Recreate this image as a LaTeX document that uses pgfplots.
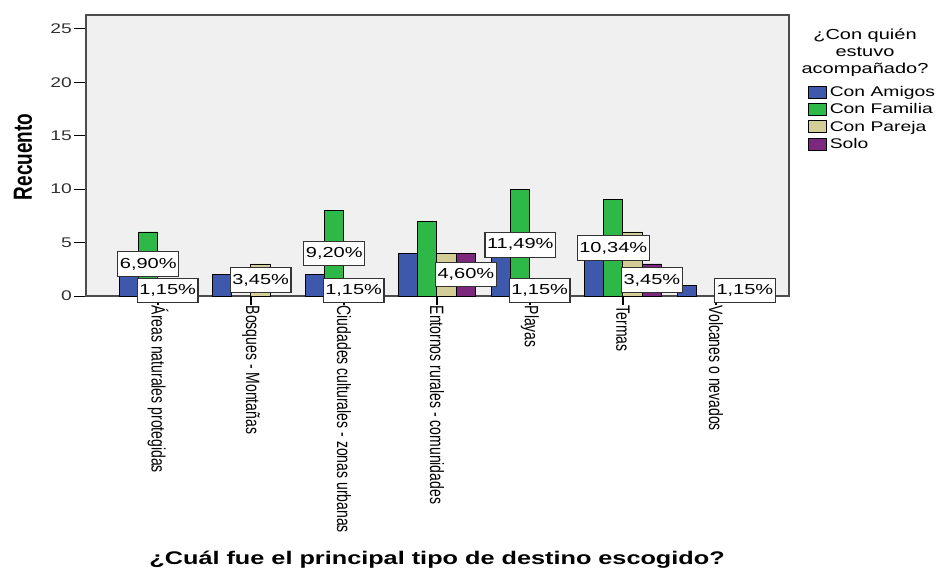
\documentclass[border=0pt]{standalone}
\usepackage{graphicx}
\usepackage{pgfplots}
\pgfplotsset{compat=1.18}
\usepackage{fontspec}
\setmainfont{Liberation Sans}
\definecolor{amigos}{HTML}{3E58AC}
\definecolor{familia}{HTML}{2EB848}
\definecolor{pareja}{HTML}{D3CE97}
\definecolor{solo}{HTML}{7C287D}
\definecolor{fondo}{HTML}{F0F0F0}
% the reference is stretched horizontally: draw narrow, then scale x by 1.38
\pgfplotsset{
  legsq/.style={legend image code/.code={\draw[##1,draw=black,line width=0.6pt] (0pt,-6pt) rectangle (13pt,6pt);}},
}
\tikzset{
  pct/.style={draw=black!80,fill=white,line width=0.9pt,inner xsep=1.5pt,inner ysep=6.5pt,
    text height=10pt,text depth=1.5pt,font=\fontsize{14.5}{14.5}\selectfont},
}
\begin{document}
\scalebox{1.38}[1]{%
\begin{tikzpicture}[x=1pt,y=1pt]
\useasboundingbox (0,0) rectangle (682.6,575);
\begin{axis}[
  at={(62.3pt,279pt)},anchor=south west,
  width=509.4pt,height=281pt,scale only axis,
  axis background/.style={fill=fondo},
  axis line style={black!70,line width=1.1pt},
  ybar=0pt,bar width=0.2075,
  xmin=-0.774,xmax=6.785,ymin=0,ymax=26.3,
  ytick={0,5,...,25},
  xtick={0,...,6},
  xticklabels={Áreas naturales protegidas,Bosques - Montañas,Ciudades culturales - zonas urbanas,Entornos rurales - comunidades,Playas,Termas,Volcanes o nevados},
  tick align=outside,tick pos=left,major tick length=8.5pt,
  tick style={black,line width=0.8pt},
  xticklabel style={rotate=-90,anchor=west,font=\fontsize{14}{14}\selectfont,inner sep=1pt},
  yticklabel style={font=\fontsize{14}{14}\selectfont,text=black!80,inner sep=1.5pt},
  /pgf/number format/assume math mode=true,
  clip=false,
  legend style={at={(1.027,0.753)},anchor=north west,draw=none,fill=none,
    font=\fontsize{14}{14}\selectfont,row sep=1.5pt,inner sep=0pt,
    cells={anchor=west}},
  legend cell align=left,
]
\addplot[fill=amigos,draw=black,line width=0.7pt,legsq] coordinates {(0,4) (1,2) (2,2) (3,4) (4,4) (5,5) (6,1)};
\addlegendentry{Con Amigos}
\addplot[fill=familia,draw=black,line width=0.7pt,legsq] coordinates {(0,6) (2,8) (3,7) (4,10) (5,9)};
\addlegendentry{Con Familia}
\addplot[fill=pareja,draw=black,line width=0.7pt,legsq] coordinates {(0,1) (1,3) (2,1) (3,4) (4,1) (5,6)};
\addlegendentry{Con Pareja}
\addplot[fill=solo,draw=black,line width=0.7pt,legsq] coordinates {(0,1) (3,4) (5,3) (6,1)};
\addlegendentry{Solo}
% percentage labels, centred on the bars at half height
\node[pct] at (axis cs:-0.104,3) {6,90\%};
\node[pct] at (axis cs:0.104,0.5) {1,15\%};
\node[pct] at (axis cs:1.104,1.5) {3,45\%};
\node[pct] at (axis cs:1.896,4) {9,20\%};
\node[pct] at (axis cs:2.104,0.5) {1,15\%};
\node[pct] at (axis cs:3.311,2) {4,60\%};
\node[pct] at (axis cs:3.896,4.8) {11,49\%};
\node[pct] at (axis cs:4.104,0.5) {1,15\%};
\node[pct] at (axis cs:4.896,4.5) {10,34\%};
\node[pct] at (axis cs:5.311,1.5) {3,45\%};
\node[pct] at (axis cs:6.311,0.5) {1,15\%};
\end{axis}
\node[align=center,font=\fontsize{14.5}{17}\selectfont] at (626.8,522) {¿Con quién\\estuvo\\acompañado?};
\node[rotate=90,font=\bfseries\fontsize{19}{19}\selectfont] at (16.7,418) {Recuento};
\node[font=\bfseries\fontsize{18.3}{18.3}\selectfont] at (316.7,15) {¿Cuál fue el principal tipo de destino escogido?};
\end{tikzpicture}}
\end{document}
